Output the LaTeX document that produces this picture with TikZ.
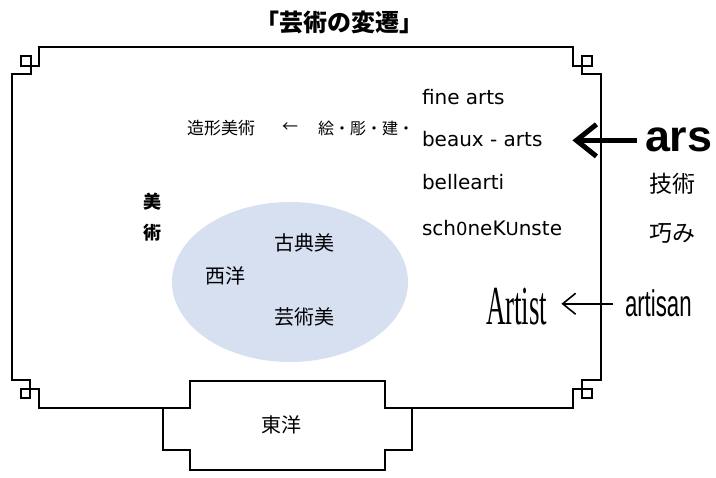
\documentclass[tikz,border=0pt]{standalone}
\usepackage{fontspec}
\usetikzlibrary{arrows.meta}
\newfontfamily\jp{Noto Sans CJK JP}
\newfontfamily\dv{DejaVu Sans}
\newfontfamily\lsans{Liberation Sans}
\newfontfamily\lserif{Liberation Serif}
\definecolor{ellfill}{HTML}{D7E0F0}
\tikzset{
  frameline/.style={line width=1.3pt, line join=miter},
  txt/.style={inner sep=0pt, outer sep=0pt},
  jptext/.style={txt, font=\jp\fontsize{20}{20}\selectfont},
  latin/.style={txt, anchor=base west, font=\dv\fontsize{20}{20}\selectfont},
  bigarrow/.style={line width=5pt, -{Straight Barb[length=20pt,width=32pt]}},
  thinarrow/.style={line width=1.6pt, -{Straight Barb[length=13pt,width=21pt]}},
}
\begin{document}
\begin{tikzpicture}[x=1pt,y=-1pt]
\useasboundingbox (0,0) rectangle (716,478);
% ellipse
\fill[ellfill] (290,282) ellipse [x radius=118, y radius=80];
% frame
\draw[frameline] (39,47) -- (573,47) -- (573,66) -- (592,66) -- (592,56) -- (582,56) -- (582,74) -- (601,74)
  -- (601,380) -- (582,380) -- (582,398) -- (592,398) -- (592,389) -- (573,389) -- (573,408)
  -- (385,408) -- (385,381) -- (190,381) -- (190,408)
  -- (39,408) -- (39,389) -- (21,389) -- (21,398) -- (30,398) -- (30,380) -- (12,380)
  -- (12,74) -- (31,74) -- (31,56) -- (21,56) -- (21,66) -- (39,66) -- cycle;
\draw[frameline] (163,408) -- (163,450) -- (190,450) -- (190,470) -- (385,470) -- (385,450) -- (412,450) -- (412,408);
% title
\node[jptext, font=\jp\bfseries\fontsize{24}{24}\selectfont] (title) at (339,22) {「芸術の変遷」};
% upper text
\node[jptext, font=\jp\fontsize{17}{17}\selectfont] (zokei) at (221,128) {造形美術};
\node[jptext, font=\jp\fontsize{16}{16}\selectfont] (larr) at (290,128) {←};
\node[jptext, font=\jp\fontsize{16}{16}\selectfont] (kaicho) at (366,128) {絵・彫・建・};
% latin words
\node[latin] (fine) at (422,105) {fine arts};
\node[latin] (beaux) at (422,147) {beaux - arts};
\node[latin] (belle) at (422,190) {bellearti};
\node[latin] (schone) at (422,236) {sch{\fontsize{18}{18}\selectfont 0}neK{\fontsize{18}{18}\selectfont U}nste};
% ars
\node[txt, anchor=base west, font=\lsans\bfseries\fontsize{44}{44}\selectfont] (ars) at (645,152) {\scalebox{1.02}[1]{ars}};
\node[jptext, font=\jp\fontsize{23}{23}\selectfont] (gijutsu) at (672,184) {技術};
\node[jptext, font=\jp\fontsize{23}{23}\selectfont] (takumi) at (672,233) {巧み};
% bijutsu vertical
\node[jptext, font=\jp\bfseries\fontsize{18}{18}\selectfont] (bi) at (152,202) {美};
\node[jptext, font=\jp\bfseries\fontsize{18}{18}\selectfont] (jutsu) at (152,233) {術};
% ellipse texts
\node[jptext] (koten) at (304,243) {古典美};
\node[jptext] (seiyo) at (225,276) {西洋};
\node[jptext] (geijutsubi) at (304,317) {芸術美};
\node[jptext] (toyo) at (281,425) {東洋};
% artist / artisan
\node[txt, anchor=base west, font=\lserif\fontsize{55}{55}\selectfont] (artist) at (486,325) {\scalebox{0.49}[1]{Artist}};
\node[txt, anchor=base west, font=\lsans\fontsize{37}{37}\selectfont] (artisan) at (625,317) {\scalebox{0.6}[1]{artisan}};
% arrows
\draw[bigarrow, shorten <=8pt, shorten >=30pt] (ars.west) -- (ars.west -| beaux.east);
\draw[thinarrow, shorten <=12pt, shorten >=14pt] (artisan.west) -- (artisan.west -| artist.east);
\end{tikzpicture}
\end{document}
